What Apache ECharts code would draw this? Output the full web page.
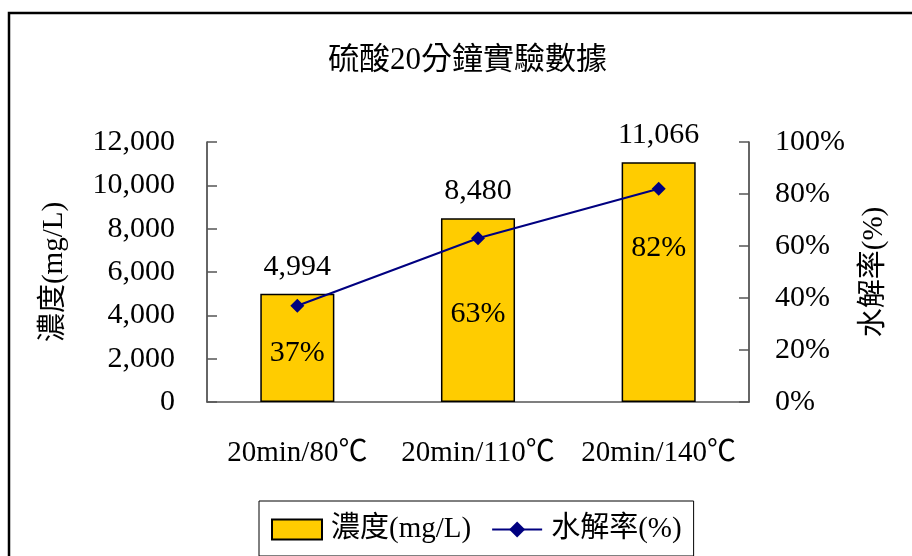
<!DOCTYPE html>
<html>
<head>
<meta charset="utf-8">
<script src="https://cdn.jsdelivr.net/npm/echarts@6/dist/echarts.min.js"></script>
<style>
  html, body { margin: 0; padding: 0; background: #fff; }
  #chart { width: 912px; height: 556px; }
</style>
</head>
<body>
<div id="chart"></div>
<script>
// Sulfuric acid, 20-minute runs: concentration (bars) and hydrolysis rate (line)
const categories = ['20min/80℃', '20min/110℃', '20min/140℃'];
const concentration = [4994, 8480, 11066];      // mg/L
const hydrolysisRate = [37, 63, 82];            // %
const rateLabelOffsets = [47, 76, 59];          // label drop below each point, px

const FONT = '"Liberation Serif", "Noto Sans CJK TC", serif';

const chart = echarts.init(document.getElementById('chart'), null, { renderer: 'canvas' });

chart.setOption({
  backgroundColor: '#fff',
  animation: false,
  textStyle: { fontFamily: FONT, color: '#000' },
  title: {
    text: '硫酸20分鐘實驗數據',
    left: 323,
    top: 40,
    textStyle: { fontFamily: FONT, fontSize: 31, fontWeight: 'normal', color: '#000' }
  },
  graphic: [{
    type: 'rect',
    shape: { x: 9, y: 13, width: 1000, height: 1000 },
    style: { fill: 'none', stroke: '#000', lineWidth: 2.5 },
    silent: true
  }],
  grid: { left: 207, right: 163, top: 142, bottom: 154 },
  legend: {
    left: 259,
    top: 501,
    padding: [14, 12, 12, 12],
    itemGap: 20,
    itemWidth: 50,
    itemHeight: 20,
    borderColor: '#000',
    borderWidth: 1,
    textStyle: { fontFamily: FONT, fontSize: 29, color: '#000', padding: [0, 0, 0, 4] },
    data: [{ name: '濃度(mg/L)', icon: 'rect' }, { name: '水解率(%)' }]
  },
  xAxis: {
    type: 'category',
    data: categories,
    axisLine: { lineStyle: { color: '#555', width: 1.5 } },
    axisTick: { inside: true, length: 10, lineStyle: { color: '#555', width: 1.5 } },
    axisLabel: {
      interval: 0, hideOverlap: false,
      fontFamily: FONT, fontSize: 29, color: '#000', margin: 37
    }
  },
  yAxis: [{
    type: 'value',
    min: 0,
    max: 12000,
    interval: 2000,
    name: '濃度(mg/L)',
    nameLocation: 'middle',
    nameRotate: 90,
    nameGap: 138,
    nameTextStyle: { fontFamily: FONT, fontSize: 29, color: '#000' },
    axisLine: { show: true, lineStyle: { color: '#333', width: 1.5 } },
    axisTick: { show: true, inside: true, length: 10, lineStyle: { color: '#555', width: 1.5 } },
    splitLine: { show: false },
    axisLabel: {
      fontFamily: FONT, fontSize: 30, color: '#000', margin: 32, padding: [5, 0, 0, 0],
      formatter: v => v.toLocaleString('en-US')
    }
  }, {
    type: 'value',
    min: 0,
    max: 100,
    interval: 20,
    position: 'right',
    name: '水解率(%)',
    nameLocation: 'middle',
    nameRotate: 90,
    nameGap: 111,
    nameTextStyle: { fontFamily: FONT, fontSize: 29, color: '#000' },
    axisLine: { show: true, lineStyle: { color: '#333', width: 1.5 } },
    axisTick: { show: true, inside: true, length: 10, lineStyle: { color: '#555', width: 1.5 } },
    splitLine: { show: false },
    axisLabel: {
      fontFamily: FONT, fontSize: 30, color: '#000', margin: 26, padding: [5, 0, 0, 0],
      formatter: '{value}%'
    }
  }],
  series: [{
    name: '濃度(mg/L)',
    type: 'bar',
    yAxisIndex: 0,
    barWidth: '41%',
    data: concentration,
    itemStyle: { color: '#FFCC00', borderColor: '#000', borderWidth: 1.5 },
    label: {
      show: true,
      position: 'top',
      distance: 12,
      fontFamily: FONT,
      fontSize: 30,
      color: '#000',
      formatter: p => p.value.toLocaleString('en-US')
    }
  }, {
    name: '水解率(%)',
    type: 'line',
    yAxisIndex: 1,
    data: hydrolysisRate.map((v, i) => ({
      value: v,
      label: { offset: [0, rateLabelOffsets[i]] }
    })),
    symbol: 'diamond',
    symbolSize: 14,
    lineStyle: { color: '#000080', width: 2 },
    itemStyle: { color: '#000080' },
    label: {
      show: true,
      position: 'inside',
      fontFamily: FONT,
      fontSize: 30,
      color: '#000',
      formatter: '{c}%'
    },
    z: 5
  }]
});
</script>
</body>
</html>
